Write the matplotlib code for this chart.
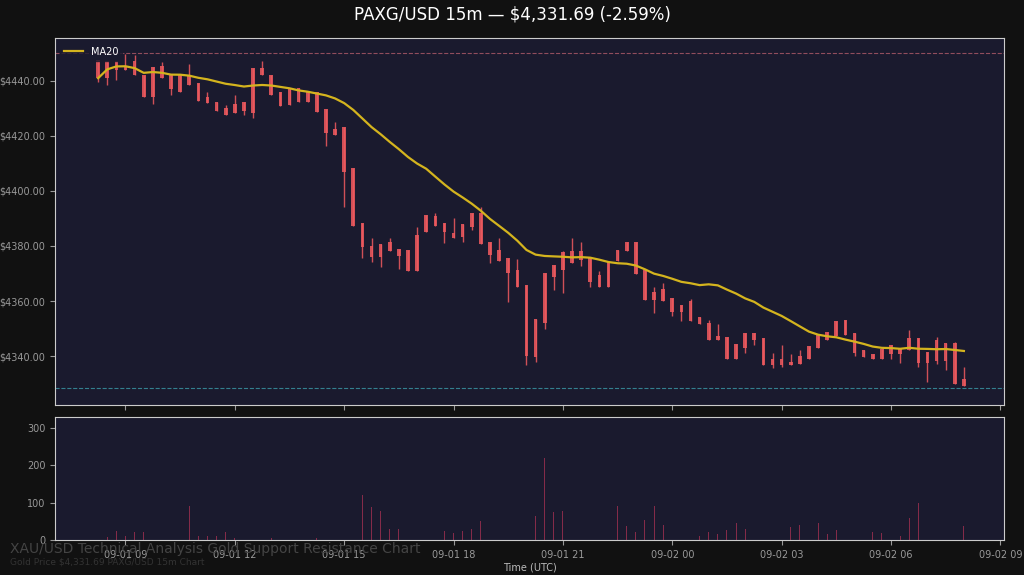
import matplotlib
matplotlib.use("Agg")
import matplotlib.pyplot as plt
import matplotlib.dates as mdates
import numpy as np
import pandas as pd

start_time = "2025-09-01 08:15"
opens = [4447.6,4441,4444,4443.8,4447.4,4442,4434,4445.5,4442,4436,
         4442.3,4439.3,4432,4432.5,4430,4428.4,4432.3,4428.4,4444.6,4442.3,
         4436,4431.3,4437.5,4432.2,4435.8,4429.8,4420.3,4423.1,4408.5,4388.2,
         4380,4375.9,4381.6,4378.9,4378.5,4371,4385.2,4390.9,4388.2,4384.8,
         4383.2,4387,4391.9,4381.6,4374.7,4375.5,4371.3,4365.8,4339.8,4352.1,
         4368.8,4371.3,4378.3,4375,4375.5,4365,4365.2,4374.7,4378,4381.6,
         4371.3,4363.4,4360.1,4361,4358.5,4352.8,4354.3,4351.9,4347.3,4346.8,
         4339.1,4348.2,4345.8,4346.4,4339.1,4336.7,4337.9,4337.1,4338.8,4342.8,
         4346,4347.3,4353.1,4348.5,4342.2,4339.1,4339.1,4340.7,4343.1,4342.2,
         4346.4,4337.3,4338.3,4344.6,4344.6,4329.1]
closes = [4441,4447.4,4447.4,4445.5,4442,4434.3,4445,4441,4437,4442,
          4438.4,4432.6,4434,4429.2,4427.7,4431.6,4429.2,4444.6,4442,4434.7,
          4430.9,4437.2,4432.2,4435.8,4428.8,4421,4422.7,4407,4387.3,4379.8,
          4376.1,4380.7,4378,4376.4,4371,4384,4391.3,4387.3,4385.2,4382.8,
          4388,4391.9,4380.7,4376.7,4378.5,4370.3,4365.2,4340,4353.3,4370,
          4373.1,4377.9,4373.7,4378,4367,4369.5,4374.3,4378.5,4381.6,4369.8,
          4360.4,4360.3,4364.2,4356.1,4356.1,4360.1,4351.6,4345.8,4345.8,4339.1,
          4344.3,4342.8,4348.2,4336.7,4336.7,4339.1,4336.7,4340,4343.6,4347.6,
          4348.8,4352.8,4347.6,4341.2,4339.7,4340.7,4342.4,4344,4340.7,4346.4,
          4337.3,4341.6,4345.8,4338.3,4329.8,4331.69]
highs = {1:4447.6,3:4447.4,4:4449.8,5:4449.4,8:4447,11:4446,13:4436,15:4431.3,16:4435,
         19:4447.4,27:4425.1,31:4382.8,33:4382.8,36:4387,38:4391.9,40:4390,43:4394.3,
         45:4382.8,47:4375.2,52:4378.3,53:4382.8,54:4381.6,56:4371,62:4365,63:4366.4,
         66:4360.6,68:4353.1,69:4351.6,75:4341.2,76:4344,77:4340.7,78:4342.2,
         90:4349.4,93:4347,95:4345.2,96:4335.9}
lows = {1:4439.5,2:4438.5,3:4440.4,7:4431.6,9:4434.7,17:4427.7,18:4426.5,26:4416.4,
        28:4394.3,30:4375.5,31:4374.3,32:4372.2,34:4371.5,39:4381,41:4381.6,42:4385.8,
        44:4373.7,46:4359.8,48:4336.7,49:4337.9,50:4350,51:4364,52:4362.8,54:4372.7,
        55:4365,62:4355.5,64:4354.5,65:4352.8,72:4341,73:4344,75:4335.5,76:4335.9,
        84:4340,88:4339.1,89:4337.6,91:4335.9,92:4330.6,93:4337.1,94:4335.1}
vol_idx = [2,3,4,5,6,11,12,13,14,15,16,20,25,30,31,32,33,34,35,39,40,41,42,43,44,
           49,50,51,52,53,58,59,60,61,62,63,67,68,69,70,71,72,77,78,79,80,81,82,
           86,87,88,89,90,91,96]
vol_val = [8,25,12,22,22,90,10,10,10,22,5,5,5,120,88,78,30,30,38,25,20,25,30,52,35,
           65,220,75,78,88,92,38,22,55,90,40,10,22,15,28,45,30,35,40,72,45,15,28,
           22,20,38,10,60,98,38]
resistance = 4450.2
support = 4328.4
title = "PAXG/USD 15m — $4,331.69 (-2.59%)"

n = len(opens)
times = pd.date_range(start_time, periods=n, freq="15min")
o = np.array(opens); c = np.array(closes)
h = np.array([highs.get(i + 1, max(o[i], c[i])) for i in range(n)])
l = np.array([lows.get(i + 1, min(o[i], c[i])) for i in range(n)])
h = np.maximum(h, np.maximum(o, c)); l = np.minimum(l, np.minimum(o, c))
ma = pd.Series(c).rolling(20, min_periods=1).mean()

BG = "#111111"; AX = "#1a1a2e"; RED = "#f05a5f"; GRID = "#cccccc"
fig = plt.figure(figsize=(10.24, 5.75), dpi=100, facecolor=BG)
ax = fig.add_axes([55/1024, 1-405/575, 949/1024, 367/575], facecolor=AX)
axv = fig.add_axes([55/1024, 1-540/575, 949/1024, 123/575], facecolor=AX, sharex=ax)

x = mdates.date2num(times)
w = 0.4 * (15 / 1440)
ax.vlines(x, l, h, color=RED, lw=1, alpha=0.85, zorder=2)
ax.bar(x, np.abs(c - o), bottom=np.minimum(o, c), width=w, color=RED, alpha=0.85, zorder=3)
ax.plot(x, ma, color="#d4b41e", lw=1.6, label="MA20", zorder=4)
ax.axhline(resistance, color="#b05a6a", ls="--", lw=0.8, alpha=0.8)
ax.axhline(support, color="#3a9aa8", ls="--", lw=0.8, alpha=0.8)
ax.set_ylim(4322.2, 4455.6)
ax.set_yticks([4340, 4360, 4380, 4400, 4420, 4440])
ax.yaxis.set_major_formatter(matplotlib.ticker.FuncFormatter(lambda v, p: f"${v:.2f}"))
leg = ax.legend(loc="upper left", facecolor=AX, edgecolor=AX, fontsize=7, labelcolor="white")

vx = [x[i - 1] for i in vol_idx]
axv.bar(vx, vol_val, width=w * 0.25, color="#a03050", alpha=0.8)
axv.set_ylim(0, 330)
axv.set_yticks([0, 100, 200, 300])

t0 = pd.Timestamp("2025-09-01 07:04"); t1 = pd.Timestamp("2025-09-02 09:06")
ax.set_xlim(mdates.date2num(t0), mdates.date2num(t1))
axv.xaxis.set_major_locator(mdates.HourLocator(byhour=[0, 3, 6, 9, 12, 15, 18, 21]))
axv.xaxis.set_major_formatter(mdates.DateFormatter("%m-%d %H"))
plt.setp(ax.get_xticklabels(), visible=False)
axv.set_xlabel("Time (UTC)", color="#bbbbbb", fontsize=7, labelpad=2)

for a in (ax, axv):
    a.tick_params(colors="#999999", labelsize=7)
    for s in a.spines.values():
        s.set_color(GRID)

fig.text(0.5, 1-14/575, title, color="white", fontsize=12, ha="center", va="center")
fig.text(10/1024, 1-549/575, "XAU/USD Technical Analysis Gold Support Resistance Chart",
         color="#444444", fontsize=10, va="center")
fig.text(10/1024, 1-562/575, "Gold Price $4,331.69 PAXG/USD 15m Chart",
         color="#333333", fontsize=6.5, va="center")
fig.savefig("out.png", dpi=100, facecolor=BG)
